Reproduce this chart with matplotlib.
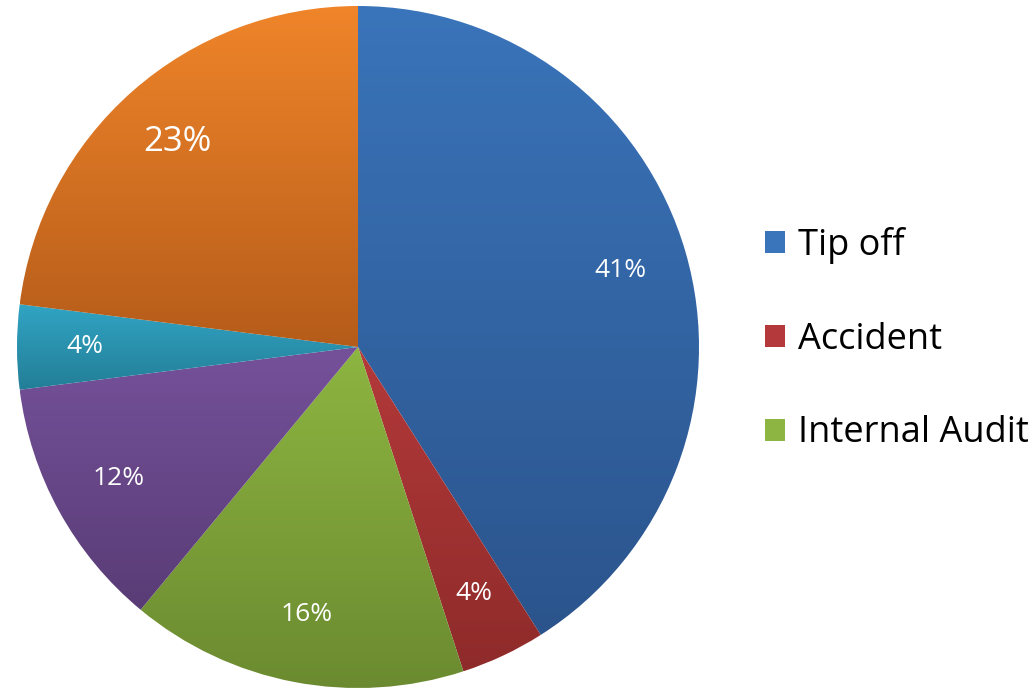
import numpy as np
import matplotlib.pyplot as plt
from matplotlib.patches import Patch
from matplotlib.colors import to_rgb

# --- data ---
labels = ['Tip off', 'Accident', 'Internal Audit', 'Other 1', 'Other 2', 'Other 3']
shares = [41, 4, 16, 12, 4, 23]
top_colors = ['#3a74ba', '#b4393a', '#8db541', '#75519a', '#31a4c4', '#f0852a']
bot_colors = ['#2b548c', '#8e2b2a', '#6b8a30', '#593c76', '#237e97', '#b55c1a']
legend_labels = ['Tip off', 'Accident', 'Internal Audit']
label_sizes = [19, 19, 19, 19, 19, 25]

plt.rcParams['font.family'] = ['Open Sans', 'DejaVu Sans']

fig = plt.figure(figsize=(10.32, 6.9), dpi=100)
ax = fig.add_axes([0, 0, 1, 1])

cx, cy, r = 358, 343, 341
wedges, texts, autotexts = ax.pie(shares, startangle=90, counterclock=False,
                                  center=(cx, cy), radius=r, frame=True,
                                  autopct='%d%%', pctdistance=0.8,
                                  wedgeprops=dict(linewidth=0))
ax.set_xlim(0, 1032)
ax.set_ylim(0, 690)
ax.axis('off')

# vertical gradient in each slice, light on top, dark at bottom
for w, c1, c2 in zip(wedges, top_colors, bot_colors):
    verts = w.get_patch_transform().transform(w.get_path().vertices)
    y0, y1 = verts[:, 1].min(), verts[:, 1].max()
    x0, x1 = verts[:, 0].min(), verts[:, 0].max()
    t = np.linspace(0, 1, 256)[:, None]
    grad = (1 - t) * np.array(to_rgb(c1)) + t * np.array(to_rgb(c2))
    img = np.repeat(grad[:, None, :], 2, axis=1)
    im = ax.imshow(img, extent=(x0, x1, y0, y1), origin='upper',
                   aspect='auto', interpolation='bilinear', zorder=1)
    im.set_clip_path(w)
    w.set_facecolor('none')
    w.set_zorder(2)

for t_, s in zip(autotexts, label_sizes):
    t_.set_color('white')
    t_.set_fontsize(s)
    t_.set_zorder(3)
for t_ in texts:
    t_.set_visible(False)

ax.set_xlim(0, 1032)
ax.set_ylim(0, 690)

handles = [Patch(facecolor=c, edgecolor='none') for c in top_colors[:3]]
fig.legend(handles, legend_labels, loc='center left',
           bbox_to_anchor=(765 / 1032, 1 - 339 / 690), frameon=False,
           fontsize=26, handlelength=0.56, handleheight=0.56,
           handletextpad=0.35, labelspacing=1.6, borderpad=0,
           borderaxespad=0)

fig.savefig('out.png', dpi=100)
